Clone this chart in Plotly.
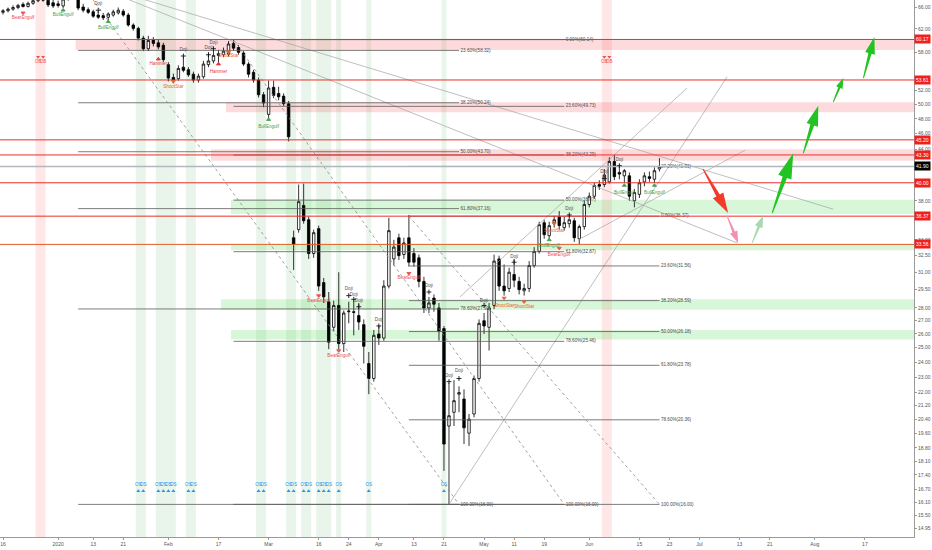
import numpy as np
import pandas as pd
import plotly.graph_objects as go

HOLIDAYS = ["2019-12-25", "2020-01-01", "2020-04-10"]
# trading days, entry 0 is the Friday before the first bar
TD = pd.bdate_range("2019-12-13", periods=200, freq="C", holidays=HOLIDAYS)

# daily candles, first bar = 2019-12-16
OPEN = [65.0, 65.3, 65.6, 65.9, 66.5, 66.1, 66.7, 67.2, 67.6, 67.3,
        66.8, 66.6, 66.2, 67.8, 68.5, 68.2, 66.0, 65.5, 65.1, 64.5,
        64.4, 64.1, 64.5, 64.9, 65.2, 64.5, 62.7, 62.1, 60.4, 58.6,
        60.1, 59.6, 59.2, 56.0, 54.0, 53.8, 55.6, 55.2, 54.5, 53.6,
        54.1, 56.0, 56.6, 57.5, 57.6, 57.7, 59.5, 58.8, 57.9, 56.1,
        54.8, 53.6, 51.4, 48.6, 52.5, 51.6, 51.2, 50.1, 34.2, 35.0,
        37.5, 36.0, 32.7, 35.1, 30.1, 28.5, 26.5, 28.2, 25.3, 27.7,
        27.7, 27.4, 26.7, 23.9, 22.9, 26.0, 25.7, 29.8, 32.2, 34.2,
        32.6, 34.2, 32.7, 32.3, 30.2, 28.0, 28.8, 28.0, 26.4, 20.0,
        20.8, 21.9, 21.6, 19.6, 20.7, 22.9, 27.0, 26.5, 28.2, 32.2,
        29.8, 29.6, 30.8, 30.2, 29.4, 29.6, 31.6, 32.9, 35.7, 34.4,
        35.7, 36.3, 35.2, 35.6, 35.9, 34.1, 35.3, 37.6, 38.5, 39.8,
        39.8, 40.1, 42.5, 41.2, 40.8, 40.8, 38.0, 38.7, 40.1, 40.7,
        40.4, 41.6]
HIGH = [65.6, 65.9, 66.3, 66.6, 66.9, 67.0, 67.6, 68.0, 68.3, 68.0,
        67.4, 67.2, 68.2, 69.5, 70.5, 71.4, 66.6, 65.9, 65.5, 65.2,
        64.9, 65.0, 65.5, 65.9, 65.6, 64.9, 63.0, 62.4, 60.8, 60.8,
        60.6, 60.1, 59.6, 56.4, 54.6, 55.9, 57.2, 55.6, 54.9, 54.6,
        56.6, 58.0, 58.4, 58.4, 58.8, 59.9, 60.14, 59.2, 58.2, 56.4,
        55.2, 54.0, 51.8, 53.5, 53.5, 52.6, 51.6, 50.5, 34.9, 39.8,
        39.9, 36.3, 35.0, 35.4, 30.5, 29.3, 28.6, 31.0, 27.8, 28.5,
        28.6, 28.4, 27.1, 24.7, 26.3, 26.6, 30.3, 36.2, 34.0, 34.6,
        34.2, 36.5, 33.2, 32.6, 30.6, 28.9, 29.1, 28.4, 26.6, 22.6,
        22.8, 22.4, 22.2, 20.7, 23.1, 27.1, 27.6, 28.4, 32.6, 32.5,
        31.7, 31.4, 32.2, 30.6, 30.0, 32.0, 33.3, 35.8, 36.0, 35.8,
        36.4, 36.9, 36.3, 36.5, 36.2, 35.5, 38.0, 38.9, 40.0, 40.3,
        41.6, 43.0, 43.3, 41.9, 41.6, 41.2, 39.3, 40.4, 41.2, 41.3,
        41.8, 42.9]
LOW = [64.6, 65.0, 65.3, 65.6, 65.9, 65.9, 66.4, 66.9, 67.0, 66.0,
       65.8, 65.9, 65.8, 67.2, 67.5, 65.4, 65.0, 64.7, 64.0, 63.8,
       63.6, 63.6, 64.2, 64.6, 64.2, 62.4, 61.7, 60.0, 58.2, 58.2,
       59.0, 58.5, 56.4, 53.4, 53.1, 53.5, 54.8, 54.1, 53.2, 53.2,
       53.8, 55.6, 56.2, 56.0, 57.2, 57.3, 58.3, 57.6, 55.8, 54.0,
       53.2, 51.0, 49.6, 48.1, 50.9, 50.6, 49.8, 45.0, 31.2, 34.7,
       35.6, 32.2, 32.3, 29.4, 28.4, 24.9, 26.2, 24.9, 24.7, 26.8,
       25.9, 26.3, 23.9, 21.9, 22.7, 25.2, 25.5, 29.6, 31.6, 32.1,
       32.2, 31.5, 31.5, 29.7, 27.6, 27.6, 27.7, 25.5, 17.6, 16.0,
       20.0, 20.8, 19.0, 18.9, 20.5, 22.7, 26.0, 24.8, 27.9, 29.4,
       29.0, 29.3, 29.7, 29.1, 29.0, 29.3, 31.4, 32.7, 34.1, 34.1,
       35.2, 35.0, 34.9, 35.2, 33.8, 33.6, 35.0, 37.3, 38.2, 39.2,
       39.5, 39.9, 40.3, 40.4, 40.0, 38.0, 37.3, 38.3, 39.6, 40.1,
       40.0, 41.3]
CLOSE = [65.3, 65.6, 65.9, 66.3, 66.1, 66.7, 67.2, 67.6, 67.3, 66.4,
         66.2, 66.3, 67.5, 68.5, 68.2, 65.8, 65.4, 65.0, 64.3, 64.1,
         64.0, 64.7, 65.1, 65.4, 64.5, 62.7, 62.1, 60.4, 58.6, 60.0,
         59.5, 58.9, 56.8, 53.9, 53.6, 55.4, 55.1, 54.4, 53.6, 54.2,
         56.1, 56.6, 57.5, 57.8, 58.2, 59.4, 58.7, 58.0, 56.1, 54.5,
         53.6, 51.4, 50.2, 52.4, 51.3, 51.1, 50.1, 45.6, 33.6, 37.9,
         35.9, 32.7, 34.7, 29.8, 28.9, 25.4, 28.2, 25.3, 27.6, 27.75,
         27.65, 26.9, 25.1, 22.9, 25.9, 25.7, 29.8, 34.9, 33.3, 32.5,
         33.7, 31.9, 31.9, 30.2, 28.0, 28.4, 28.3, 26.2, 19.0, 20.6,
         21.5, 22.0, 19.9, 20.4, 22.9, 26.8, 26.6, 28.0, 32.0, 29.8,
         29.4, 31.0, 30.3, 29.5, 29.6, 31.6, 32.9, 35.5, 34.5, 35.4,
         36.0, 35.4, 35.7, 36.0, 34.2, 35.3, 37.6, 38.5, 39.7, 39.6,
         40.9, 42.5, 40.7, 41.0, 41.4, 38.5, 38.9, 40.0, 40.8, 40.5,
         41.4, 41.9]

# horizontal support / resistance lines and the last price
LEVELS = [60.17, 53.61, 45.20, 43.30, 40.00, 36.37, 33.56]
LEVEL_COLORS = ["#e8302a"] * 6 + ["#e25a26"]
LAST = 41.90

# shaded price zones (low, high, first bar)
ZONE_LO = [58.40, 48.90, 42.60, 36.60, 33.00, 27.85, 25.60]
ZONE_HI = [60.17, 50.30, 44.00, 38.10, 33.56, 28.70, 26.30]
ZONE_START = [15, 45, 42, 46, 46, 44, 46]
ZONE_FILL = ["rgba(242,54,69,0.18)"] * 3 + ["rgba(60,210,60,0.2)"] * 4

# fibonacci retracements: (start bar, end bar, top anchor), levels, names
FIB_SPAN = [(15, 91, 71.40), (46, 112, 60.14), (81, 131, 36.37)]
FIB_LEVELS = [
    [58.32, 50.24, 43.70, 37.16, 27.92, 16.00],
    [60.14, 49.73, 43.29, 38.07, 32.87, 25.46, 16.00],
    [41.91, 36.37, 31.56, 28.59, 26.18, 23.78, 20.36, 16.00],
]
FIB_NAMES = [
    ["23.60%", "38.20%", "50.00%", "61.80%", "78.60%", "100.00%"],
    ["0.00%", "23.60%", "38.20%", "50.00%", "61.80%", "78.60%", "100.00%"],
    ["27.20%", "0.00%", "23.60%", "38.20%", "50.00%", "61.80%", "78.60%", "100.00%"],
]
FIB_LOW = 16.00

# trend lines ((bar, price), (bar, price))
TRENDS = [((15, 71.40), (165.7, 37.1)),
          ((15, 71.40), (146.5, 33.7)),
          ((89, 16.00), (144.5, 54.1)),
          ((91.2, 28.9), (136.5, 52.4)),
          ((114.8, 34.0), (148.1, 43.9))]

# projected path arrows: tail bar, tail price, tip bar, tip price, head half width, colour
ARROWS = [(139.7, 41.6, 144.7, 36.7, 6.0, "#f23b2a"),
          (144.5, 36.4, 146.7, 33.7, 4.0, "#f38fb3"),
          (149.5, 33.7, 151.7, 36.4, 4.0, "#a9d8ae"),
          (153.5, 36.7, 157.7, 43.5, 7.0, "#22c322"),
          (159.7, 43.5, 162.7, 49.8, 6.0, "#22c322"),
          (165.7, 50.35, 167.7, 53.9, 3.5, "#22c322"),
          (171.7, 53.9, 173.9, 60.6, 5.0, "#22c322")]

# candle pattern tags
PAT_BAR = [4, 12, 19, 21, 31, 34, 36, 41, 42, 43, 45, 53, 63, 67, 69, 70, 71, 75, 81, 85,
           89, 91, 96, 100, 102, 104, 109, 110, 111, 113, 120, 123, 124, 130]
PAT_NAME = ["BearEngulf", "BullEngulf", "Doji", "BullEngulf", "Hammer", "ShootStar", "Doji", "Doji",
            "Doji", "Hammer", "ShootStar", "BullEngulf", "BearEngulf", "BearEngulf", "Doji", "Doji",
            "Doji", "Doji", "BearEngulf", "Doji", "Doji", "Doji", "Doji", "ShootStar", "Doji",
            "ShootStar", "BullEngulf", "ShootStar", "BearEngulf", "Doji", "Doji", "Doji",
            "BullEngulf", "BullEngulf"]
PAT_TEXT_AT = [64.0, 64.5, 66.6, 62.2, 56.2, 52.6, 58.4, 58.7, 59.6, 54.9, 57.4, 46.9, 28.6, 24.4,
               29.6, 29.1, 28.6, 27.1, 30.5, 29.8, 23.1, 23.4, 28.6, 28.2, 32.4, 28.1, 33.4, 34.9,
               32.6, 37.1, 41.3, 42.7, 38.9, 38.9]
PAT_MARK_AT = [64.9, 65.4, 65.4, 63.3, 56.9, 53.4, 57.4, 57.6, 58.6, 56.1, 58.1, 47.9, 29.0, 24.8,
               29.0, 28.7, 28.1, 26.6, 30.9, 29.3, 22.7, 22.9, 28.2, 28.8, 31.9, 28.5, 34.0, 35.6,
               33.2, 36.5, 40.5, 42.0, 39.7, 39.7]

# oversold / overbought signal bars
OS_BARS = [27, 28, 31, 32, 33, 34, 37, 38, 51, 52, 57, 58, 60, 61, 63, 64, 65, 67, 73, 88]
OB_BARS = [7, 8, 120, 121]

TICK_DATES = ["2019-12-16", "2020-01-02", "2020-01-13", "2020-01-21", "2020-02-03", "2020-02-17",
              "2020-03-02", "2020-03-16", "2020-03-24", "2020-04-01", "2020-04-13", "2020-04-21",
              "2020-05-01", "2020-05-11", "2020-05-19", "2020-06-01", "2020-06-15", "2020-06-23",
              "2020-07-01", "2020-07-13", "2020-07-21", "2020-08-03", "2020-08-17"]
TICK_TEXT = ["16", "2020", "13", "21", "Feb", "17", "Mar", "16", "24", "Apr", "13", "21",
             "May", "11", "19", "Jun", "15", "23", "Jul", "13", "21", "Aug", "17"]
Y_TICKS = [66, 62, 58, 52, 50, 48, 46, 44, 38, 34, 32.5, 31, 29.5, 28, 27, 26, 25, 24, 23,
           22, 21.2, 20.4, 19.6, 18.8, 18.1, 17.4, 16.7, 16.1, 15.5, 14.95]

X_LO, X_HI = -0.6, 181.8
Y_LO, Y_HI = 14.58, 67.33
PW, PH = 914, 537
FONT = "Liberation Sans, Arial, sans-serif"


def at(i):
    # bar index (bar centre = noon) -> timestamp on the trading-day axis
    j = i + 0.5
    k = int(np.floor(j))
    return TD[k + 1] + pd.Timedelta(days=float(j - k))


sx = PW / (X_HI - X_LO)
sy = PH / (np.log10(Y_HI) - np.log10(Y_LO))


def arrow_shape(i0, p0, i1, p1, hw):
    x0, y0 = i0 * sx, np.log10(p0) * sy
    x1, y1 = i1 * sx, np.log10(p1) * sy
    ln = np.hypot(x1 - x0, y1 - y0)
    ux, uy = (x1 - x0) / ln, (y1 - y0) / ln
    nx, ny = -uy, ux
    bx, by = x1 - ux * 0.4 * ln, y1 - uy * 0.4 * ln
    sw = hw * 0.33
    pts = [(x0 + nx * 0.5, y0 + ny * 0.5), (bx + nx * sw, by + ny * sw),
           (bx + nx * hw, by + ny * hw), (x1, y1), (bx - nx * hw, by - ny * hw),
           (bx - nx * sw, by - ny * sw), (x0 - nx * 0.5, y0 - ny * 0.5)]
    pts.append(pts[0])
    return [at(px / sx) for px, _ in pts], [10 ** (py / sy) for _, py in pts]


fig = go.Figure()
shapes = []

for b in OS_BARS:
    shapes.append(dict(type="rect", xref="x", yref="paper", x0=at(b - 0.5), x1=at(b + 0.5),
                       y0=0, y1=1, fillcolor="rgba(76,175,80,0.12)", line_width=0, layer="below"))
for b in OB_BARS:
    shapes.append(dict(type="rect", xref="x", yref="paper", x0=at(b - 0.5), x1=at(b + 0.5),
                       y0=0, y1=1, fillcolor="rgba(255,82,82,0.14)", line_width=0, layer="below"))
for lo, hi, st, fc in zip(ZONE_LO, ZONE_HI, ZONE_START, ZONE_FILL):
    shapes.append(dict(type="rect", xref="x", yref="y", x0=at(st - 0.5), x1=at(X_HI),
                       y0=lo, y1=hi, fillcolor=fc, line_width=0, layer="below"))

fig.add_trace(go.Candlestick(
    x=[at(i) for i in range(len(OPEN))], open=OPEN, high=HIGH, low=LOW, close=CLOSE,
    increasing=dict(line=dict(color="#000000", width=0.8), fillcolor="#ffffff"),
    decreasing=dict(line=dict(color="#000000", width=0.8), fillcolor="#000000"),
    whiskerwidth=0, hoverinfo="skip", showlegend=False))


def line(xs, ys, color, width=0.8, dash="solid"):
    fig.add_trace(go.Scatter(x=xs, y=ys, mode="lines", hoverinfo="skip", showlegend=False,
                             line=dict(color=color, width=width, dash=dash)))


def texts(xs, ys, labels, color, size=4.6, pos="middle center"):
    fig.add_trace(go.Scatter(x=xs, y=ys, mode="text", text=labels, textposition=pos,
                             textfont=dict(size=size, color=color, family=FONT),
                             hoverinfo="skip", showlegend=False))


# trend lines
for (a, pa), (b, pb) in TRENDS:
    line([at(a), at(b)], [pa, pb], "#a3a3a3", 0.7)

# fibonacci sets
for (st, en, top), levels, names in zip(FIB_SPAN, FIB_LEVELS, FIB_NAMES):
    for lv in levels:
        line([at(st), at(en)], [lv, lv], "#5c5c5c", 0.8)
    line([at(st), at(en)], [top, FIB_LOW], "#8a8a8a", 0.8, "dot")
    texts([at(en + 0.3)] * len(levels), levels,
          [f"{n}({v:.2f})" for n, v in zip(names, levels)], "#4a4a4a", 4.6, "middle right")

# horizontal levels
for lv, c in zip(LEVELS, LEVEL_COLORS):
    line([at(X_LO), at(X_HI)], [lv, lv], c, 1.0)
line([at(X_LO), at(X_HI)], [LAST, LAST], "#b3b6bc", 1.4)

# arrows
for i0, p0, i1, p1, hw, c in ARROWS:
    ax, ay = arrow_shape(i0, p0, i1, p1, hw)
    fig.add_trace(go.Scatter(x=ax, y=ay, mode="lines", fill="toself", fillcolor=c,
                             line=dict(width=0, color=c), hoverinfo="skip", showlegend=False))

# candle pattern tags
PAT_COLOR = {"BearEngulf": "#ef4f4f", "BullEngulf": "#3fa34a", "Hammer": "#e53935",
             "ShootStar": "#f0602d", "Doji": "#555555"}
PAT_SYMBOL = {"BearEngulf": "triangle-down", "ShootStar": "triangle-down",
              "BullEngulf": "triangle-up", "Hammer": "triangle-up", "Doji": "cross-thin"}
for name in PAT_COLOR:
    idx = [k for k, n in enumerate(PAT_NAME) if n == name]
    xs = [at(PAT_BAR[k]) for k in idx]
    texts(xs, [PAT_TEXT_AT[k] for k in idx], [name] * len(idx), PAT_COLOR[name])
    mc = "#111111" if name == "Doji" else PAT_COLOR[name]
    fig.add_trace(go.Scatter(
        x=xs, y=[PAT_MARK_AT[k] for k in idx], mode="markers", hoverinfo="skip", showlegend=False,
        marker=dict(symbol=PAT_SYMBOL[name], size=3.5, color=mc, line=dict(color=mc, width=0.9))))

# OS / OB signals
texts([at(b) for b in OS_BARS], [16.92] * len(OS_BARS), ["OS"] * len(OS_BARS), "#2196f3", 4.6)
fig.add_trace(go.Scatter(x=[at(b) for b in OS_BARS], y=[16.62] * len(OS_BARS), mode="markers",
                         marker=dict(symbol="triangle-up", size=3.5, color="#2196f3"),
                         hoverinfo="skip", showlegend=False))
texts([at(b) for b in OB_BARS], [56.45] * len(OB_BARS), ["OB"] * len(OB_BARS), "#ef5350", 4.6)
fig.add_trace(go.Scatter(x=[at(b) for b in OB_BARS], y=[57.25] * len(OB_BARS), mode="markers",
                         marker=dict(symbol="triangle-down", size=3.5, color="#ef5350"),
                         hoverinfo="skip", showlegend=False))

# price tags on the axis
annotations = []
for lv in LEVELS:
    annotations.append(dict(x=1, xref="paper", y=np.log10(lv), yref="y", xanchor="left",
                            text=f"{lv:.2f}", showarrow=False, bgcolor="#f0201c", borderpad=1,
                            font=dict(size=5, color="#ffffff", family=FONT)))
annotations.append(dict(x=1, xref="paper", y=np.log10(LAST), yref="y", xanchor="left",
                        text=f"{LAST:.2f}", showarrow=False, bgcolor="#000000", borderpad=1,
                        font=dict(size=5, color="#ffffff", family=FONT)))

fig.update_layout(
    width=932, height=550,
    margin=dict(l=0, r=18, t=0, b=13),
    paper_bgcolor="#ffffff", plot_bgcolor="#ffffff",
    shapes=shapes, annotations=annotations,
    showlegend=False,
    xaxis=dict(type="date", range=[at(X_LO), at(X_HI)], rangeslider=dict(visible=False),
               rangebreaks=[dict(bounds=["sat", "mon"]), dict(values=HOLIDAYS)],
               tickvals=[pd.Timestamp(d) + pd.Timedelta(hours=12) for d in TICK_DATES],
               ticktext=TICK_TEXT, tickfont=dict(size=5, color="#555555", family=FONT),
               ticks="outside", ticklen=2, tickcolor="#9a9a9a", showline=True,
               linecolor="#9a9a9a", linewidth=1, showgrid=False, zeroline=False),
    yaxis=dict(type="log", side="right", range=[np.log10(Y_LO), np.log10(Y_HI)],
               tickvals=Y_TICKS, ticktext=[f"{v:.2f}" for v in Y_TICKS],
               tickfont=dict(size=5, color="#555555", family=FONT),
               ticks="outside", ticklen=2, tickcolor="#9a9a9a", showline=True,
               linecolor="#9a9a9a", linewidth=1, showgrid=False, zeroline=False),
)

fig.write_html("out.html", config={"displayModeBar": False},
               post_script="document.body.style.margin='0';")
